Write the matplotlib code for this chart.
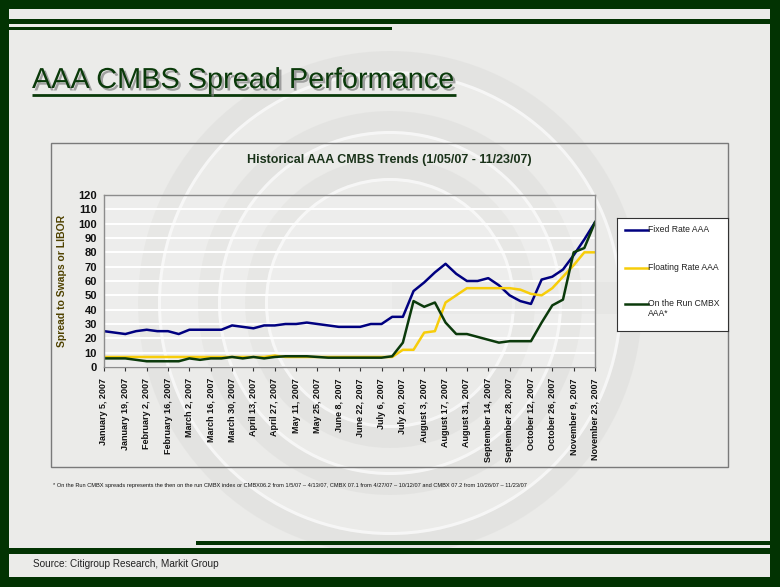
import numpy as np
import pandas as pd
import matplotlib
matplotlib.use("Agg")
import matplotlib.pyplot as plt
from matplotlib.patches import Rectangle, Wedge
import matplotlib.patheffects as pe

# weekly observations, 1/05/07 - 11/23/07
dates = pd.date_range("2007-01-05", periods=47, freq="7D")

fixed_rate = [25, 24, 23, 25, 26, 25, 25, 23, 26, 26, 26, 26, 29, 28, 27, 29,
              29, 30, 30, 31, 30, 29, 28, 28, 28, 30, 30, 35, 35, 53, 59, 66,
              72, 65, 60, 60, 62, 57, 50, 46, 44, 61, 63, 68, 78, 89, 101]
floating_rate = [7, 7, 7, 7, 7, 7, 7, 7, 7, 7, 7, 7, 7, 7, 7, 7,
                 8, 7, 7, 7, 7, 7, 7, 7, 7, 7, 7, 7, 12, 12, 24, 25,
                 45, 50, 55, 55, 55, 55, 55, 54, 51, 50, 55, 63, 71, 80, 80]
cmbx = [6, 6, 6, 5, 4, 4, 4, 4, 6, 5, 6, 6, 7, 6, 7, 6,
        7, 7.5, 7.5, 7.5, 7, 6.5, 6.5, 6.5, 6.5, 6.5, 6.5, 7.5, 17, 46, 42, 45,
        31, 23, 23, 21, 19, 17, 18, 18, 18, 31, 43, 47, 80, 83, 101]

series_names = ["Fixed Rate AAA", "Floating Rate AAA", "On the Run CMBX\nAAA*"]
series_colors = ["#000080", "#f7cd0a", "#0b3a0b"]

GREEN = "#023302"
BG = "#ebebe9"
W, H = 780, 587
SANS = ["Liberation Sans", "DejaVu Sans"]

fig = plt.figure(figsize=(7.8, 5.87), dpi=100)
fig.patch.set_facecolor(BG)

# background layer in pixel coordinates
bg = fig.add_axes([0, 0, 1, 1], zorder=-5)
bg.set_xlim(0, W)
bg.set_ylim(H, 0)
bg.axis("off")

# faint ring watermark
for r in [252, 192, 145]:
    bg.add_patch(Wedge((390, 303), r, 0, 360, width=20, facecolor="#dededc",
                       edgecolor="none", alpha=0.55))
    bg.add_patch(Wedge((390, 303), r - 20, 0, 360, width=3, facecolor="white",
                       edgecolor="none", alpha=0.6))
bg.add_patch(Rectangle((392, 282), 250, 32, facecolor="#e2e2e0", edgecolor="none", alpha=0.5))

# slide frame
for (x, y, w, h) in [(0, 0, W, 9), (0, 0, 9, H), (770, 0, 10, H), (0, 577, W, 10),
                     (0, 19, W, 5), (0, 26.5, 392, 3), (196, 541, W - 196, 3.5),
                     (0, 547.5, W, 6)]:
    bg.add_patch(Rectangle((x, y), w, h, facecolor=GREEN, edgecolor="none"))

# slide title
shadow = [pe.withSimplePatchShadow(offset=(1.8, -1.8), shadow_rgbFace="#808080", alpha=0.7)]
bg.text(32, 88, "AAA CMBS Spread Performance", fontsize=20.8, color="#0a3a0a",
        family=SANS, va="baseline", ha="left", path_effects=shadow)
bg.plot([32, 456], [95, 95], color="#0a3a0a", lw=2, solid_capstyle="butt",
        path_effects=shadow)

# chart panel
bg.add_patch(Rectangle((51, 143), 677, 324, facecolor="none", edgecolor="#7a7a7a", lw=1))
bg.text(389, 160, "Historical AAA CMBS Trends (1/05/07 - 11/23/07)", fontsize=9,
        fontweight="bold", color="#1a331a", ha="center", va="center", family=SANS)

# footnote and source
bg.text(53, 485, "* On the Run CMBX spreads represents the then on the run CMBX index or "
        "CMBX06.2 from 1/5/07 \u2013 4/13/07, CMBX 07.1 from 4/27/07 \u2013 10/12/07 "
        "and CMBX 07.2 from 10/26/07 \u2013 11/23/07", fontsize=4.1, color="#111111",
        family=SANS, va="center")
bg.text(33, 564, "Source: Citigroup Research, Markit Group", fontsize=7.2, color="#222222",
        family=SANS, va="center")

# main plot
ax = fig.add_axes([104 / W, 1 - 367 / H, 491 / W, 172 / H])
ax.set_facecolor((1, 1, 1, 0.15))
x = np.arange(len(dates))
for vals, c in zip([fixed_rate, floating_rate, cmbx], series_colors):
    ax.plot(x, vals, color=c, lw=1.8, solid_joinstyle="round")
ax.set_xlim(0, len(dates) - 1)
ax.set_ylim(0, 120)
ax.set_yticks(range(0, 121, 10))
ax.yaxis.grid(True, color="white", lw=1.4)
ax.set_axisbelow(True)
ax.tick_params(axis="y", length=0, pad=5, labelsize=8, labelcolor="#111111")
for t in ax.get_yticklabels():
    t.set_fontweight("bold")
    t.set_family(SANS)
tick_pos = x[::2]
ax.set_xticks(tick_pos)
ax.set_xticklabels([f"{d:%B} {d.day}, {d.year}" for d in dates[::2]], rotation=90,
                   fontsize=6.5, fontweight="bold", color="#111111", family=SANS)
ax.tick_params(axis="x", length=3, pad=5, color="#333333")
for s in ax.spines.values():
    s.set_color("#8c8c8c")
    s.set_linewidth(1)
ax.set_ylabel("Spread to Swaps or LIBOR", fontsize=7.5, fontweight="bold",
              color="#4f4200", family=SANS, labelpad=8)

# legend box
lg = fig.add_axes([617 / W, 1 - 331 / H, 111 / W, 113 / H])
lg.set_xlim(617, 728)
lg.set_ylim(331, 218)
lg.set_xticks([])
lg.set_yticks([])
lg.set_facecolor("white")
for s in lg.spines.values():
    s.set_color("#333333")
    s.set_linewidth(0.8)
for name, c, yy in zip(series_names, series_colors, [230, 268, 304]):
    lg.plot([625, 648], [yy, yy], color=c, lw=1.8)
    lg.text(648, yy - 5.5, name, fontsize=6.2, color="#222222", va="top", ha="left",
            linespacing=1.25, family=SANS)

fig.savefig("out.png", dpi=100, facecolor=fig.get_facecolor())
